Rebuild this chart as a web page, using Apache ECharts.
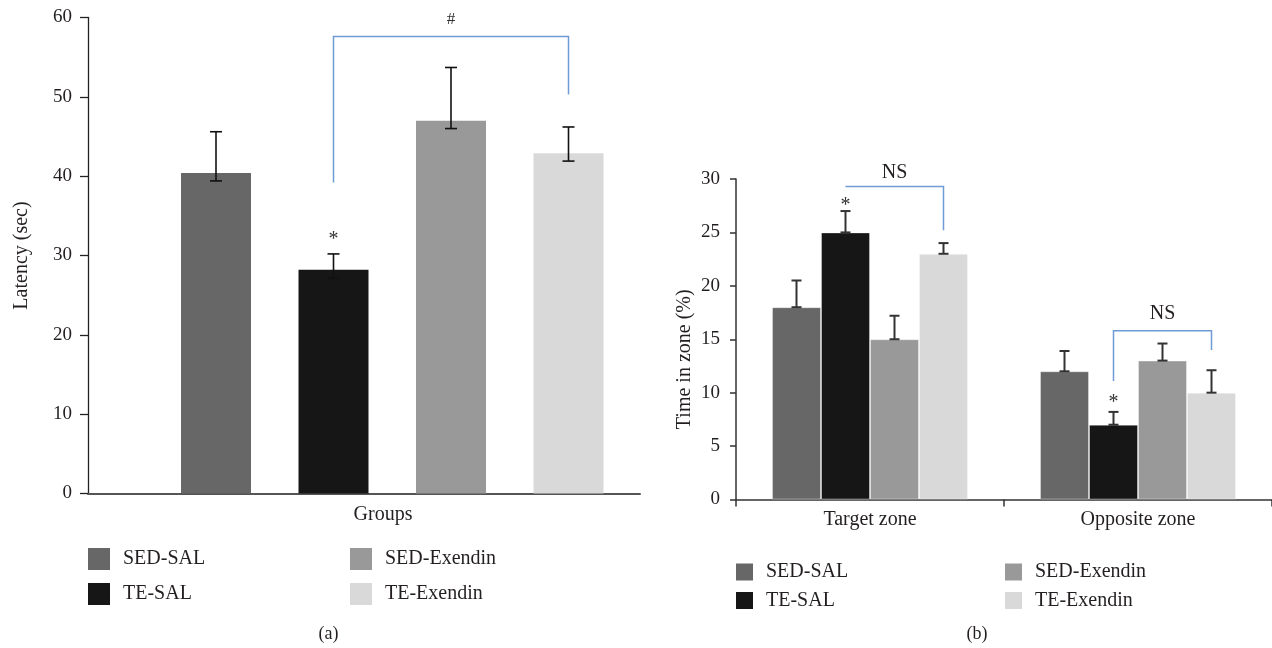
<!DOCTYPE html>
<html><head><meta charset="utf-8">
<script src="https://cdn.jsdelivr.net/npm/echarts@6.0.0/dist/echarts.min.js"></script>
<style>html,body{margin:0;padding:0;background:#fff}#c{width:1272px;height:648px}</style>
</head><body><div id="c"></div>
<script>
// ---------- shared ----------
const groups = ['SED-SAL', 'TE-SAL', 'SED-Exendin', 'TE-Exendin'];
const groupColors = ['#676767', '#161616', '#999999', '#d9d9d9'];

// ---------- panel (a): latency ----------
const latency        = [40.4, 28.2, 47.0, 42.9];
const latencyErrHigh = [45.6, 30.2, 53.7, 46.2];
const latencyErrLow  = [39.4, 27.1, 46.0, 41.9];
const latencyAxis    = { min: 0, max: 60, interval: 10 };
const starsA   = [{ group: 1, value: 32.5, text: '*' }];
const bracketA = [{ from: 1, to: 3, top: 57.6, leftEnd: 39.2, rightEnd: 50.3, label: '#', labelAt: 59.8 }];

// ---------- panel (b): time in zone ----------
const zones = ['Target zone', 'Opposite zone'];
const zoneSedSal    = [18, 12];
const zoneTeSal     = [25, 7];
const zoneSedExen   = [15, 13];
const zoneTeExen    = [23, 10];
const zoneErrHigh   = [[20.5, 13.9], [27.0, 8.2], [17.2, 14.6], [24.0, 12.1]];
const zoneAxis      = { min: 0, max: 30, interval: 5 };
const starsB   = [{ zone: 0, series: 1, value: 27.9, text: '*' }, { zone: 1, series: 1, value: 9.4, text: '*' }];
const bracketB = [
  { zone: 0, from: 1, to: 3, top: 29.3, leftEnd: 29.3, rightEnd: 25.2, label: 'NS', labelAt: 30.6 },
  { zone: 1, from: 1, to: 3, top: 15.8, leftEnd: 11.1, rightEnd: 14.0, label: 'NS', labelAt: 17.4 }
];
const zoneValues = [zoneSedSal, zoneTeSal, zoneSedExen, zoneTeExen];

// ---------- styles ----------
const FONT = '"Liberation Serif", "Times New Roman", serif';
const TXT = '#231f20';
const BLUE = '#6f9bd6';
const BAR_B = 49;

const chart = echarts.init(document.getElementById('c'), null, { renderer: 'canvas' });

const series = [];
// panel a bars
groups.forEach((g, i) => {
  series.push({
    name: g, type: 'bar', xAxisIndex: 1, yAxisIndex: 1, stack: 'a', barWidth: 70,
    itemStyle: { color: groupColors[i] }, silent: true,
    data: groups.map((_, j) => (j === i ? latency[i] : '-'))
  });
});
// panel a error bars
series.push({
  type: 'custom', xAxisIndex: 1, yAxisIndex: 1, silent: true, z: 5,
  data: latency.map((v, i) => [i, latencyErrLow[i], latencyErrHigh[i]]),
  renderItem(params, api) {
    const x = api.coord([api.value(0), 0])[0];
    const yh = api.coord([api.value(0), api.value(2)])[1];
    const yl = api.coord([api.value(0), api.value(1)])[1];
    const w = 6, st = { stroke: '#111', lineWidth: 1.6 };
    return { type: 'group', children: [
      { type: 'line', shape: { x1: x, y1: yh, x2: x, y2: yl }, style: st },
      { type: 'line', shape: { x1: x - w, y1: yh, x2: x + w, y2: yh }, style: st },
      { type: 'line', shape: { x1: x - w, y1: yl, x2: x + w, y2: yl }, style: st }
    ] };
  }
});
// panel a annotations
series.push({
  type: 'custom', xAxisIndex: 1, yAxisIndex: 1, silent: true, z: 6,
  data: bracketA.map(b => [b.from, b.to, b.top, b.leftEnd, b.rightEnd, b.labelAt]),
  renderItem(params, api) {
    const b = bracketA[params.dataIndex];
    const x1 = api.coord([api.value(0), 0])[0];
    const x2 = api.coord([api.value(1), 0])[0];
    const yt = api.coord([0, api.value(2)])[1];
    const yl = api.coord([0, api.value(3)])[1];
    const yr = api.coord([0, api.value(4)])[1];
    const ylab = api.coord([0, api.value(5)])[1];
    return { type: 'group', children: [
      { type: 'polyline', shape: { points: [[x1, yl], [x1, yt], [x2, yt], [x2, yr]] }, style: { stroke: BLUE, lineWidth: 1.5, fill: null } },
      { type: 'text', style: { text: b.label, x: (x1 + x2) / 2, y: ylab, align: 'center', verticalAlign: 'middle', fontSize: 17, fontFamily: FONT, fill: '#333' } }
    ] };
  }
});
series.push({
  type: 'custom', xAxisIndex: 1, yAxisIndex: 1, silent: true, z: 6,
  data: starsA.map(s => [s.group, s.value]),
  renderItem(params, api) {
    const p = api.coord([api.value(0), api.value(1)]);
    return { type: 'text', style: { text: starsA[params.dataIndex].text, x: p[0], y: p[1] + 4, align: 'center', verticalAlign: 'middle', fontSize: 20, fontFamily: FONT, fill: '#333' } };
  }
});

// panel b bars
groups.forEach((g, i) => {
  series.push({
    name: g, type: 'bar', xAxisIndex: 2, yAxisIndex: 2, barWidth: BAR_B, barGap: '0%',
    itemStyle: { color: groupColors[i], borderColor: 'rgba(255,255,255,0.35)', borderWidth: 1 }, silent: true,
    data: zoneValues[i]
  });
});
// panel b error bars
const errB = [];
zoneValues.forEach((vals, s) => vals.forEach((v, z) => errB.push([z, v, zoneErrHigh[s][z], s])));
series.push({
  type: 'custom', xAxisIndex: 2, yAxisIndex: 2, silent: true, z: 5,
  data: errB,
  renderItem(params, api) {
    const x = api.coord([api.value(0), 0])[0] + (api.value(3) - 1.5) * BAR_B;
    const yh = api.coord([api.value(0), api.value(2)])[1];
    const yl = api.coord([api.value(0), api.value(1)])[1];
    const w = 5, st = { stroke: '#333', lineWidth: 2 };
    return { type: 'group', children: [
      { type: 'line', shape: { x1: x, y1: yh, x2: x, y2: yl }, style: st },
      { type: 'line', shape: { x1: x - w, y1: yh, x2: x + w, y2: yh }, style: st },
      { type: 'line', shape: { x1: x - w, y1: yl, x2: x + w, y2: yl }, style: st }
    ] };
  }
});
series.push({
  type: 'custom', xAxisIndex: 2, yAxisIndex: 2, silent: true, z: 6,
  data: bracketB.map(b => [b.zone, b.from, b.to, b.top, b.leftEnd, b.rightEnd, b.labelAt]),
  renderItem(params, api) {
    const b = bracketB[params.dataIndex];
    const cx = api.coord([api.value(0), 0])[0];
    const x1 = cx + (api.value(1) - 1.5) * BAR_B;
    const x2 = cx + (api.value(2) - 1.5) * BAR_B;
    const yt = api.coord([0, api.value(3)])[1];
    const yl = api.coord([0, api.value(4)])[1];
    const yr = api.coord([0, api.value(5)])[1];
    const ylab = api.coord([0, api.value(6)])[1];
    return { type: 'group', children: [
      { type: 'polyline', shape: { points: [[x1, yl], [x1, yt], [x2, yt], [x2, yr]] }, style: { stroke: BLUE, lineWidth: 1.5, fill: null } },
      { type: 'text', style: { text: b.label, x: (x1 + x2) / 2, y: ylab, align: 'center', verticalAlign: 'middle', fontSize: 20, fontFamily: FONT, fill: TXT } }
    ] };
  }
});
series.push({
  type: 'custom', xAxisIndex: 2, yAxisIndex: 2, silent: true, z: 6,
  data: starsB.map(s => [s.zone, s.value, s.series]),
  renderItem(params, api) {
    const p = api.coord([api.value(0), api.value(1)]);
    const x = p[0] + (api.value(2) - 1.5) * BAR_B;
    return { type: 'text', style: { text: starsB[params.dataIndex].text, x: x, y: p[1] + 4, align: 'center', verticalAlign: 'middle', fontSize: 20, fontFamily: FONT, fill: '#333' } };
  }
});

const legendBase = (left, top, names, size, gap) => ({
  left: left, top: top, orient: 'vertical', padding: 0, icon: 'rect',
  itemWidth: size, itemHeight: size, itemGap: gap, selectedMode: false,
  data: names,
  textStyle: { fontSize: 20, fontFamily: FONT, color: TXT, padding: [0, 0, 0, 8] }
});

const axisText = { fontSize: 19, fontFamily: FONT, color: TXT };
const nameText = { fontSize: 20, fontFamily: FONT, color: TXT };

chart.setOption({
  animation: false,
  backgroundColor: '#fff',
  grid: [
    { left: 88, top: 17.5, width: 552, height: 476 },
    { left: 157.25, top: 17.5, width: 470, height: 476 },
    { left: 736, top: 179, width: 538, height: 320.5 }
  ],
  xAxis: [
    { gridIndex: 0, type: 'category', data: ['Groups'],
      axisLine: { lineStyle: { color: '#555', width: 2 } }, axisTick: { show: false }, axisLabel: { show: false },
      name: 'Groups', nameLocation: 'middle', nameGap: 11,
      nameTextStyle: Object.assign({}, nameText, { padding: [0, 0, 0, 38] }) },
    { gridIndex: 1, type: 'category', data: groups, show: false },
    { gridIndex: 2, type: 'category', data: zones,
      axisLine: { lineStyle: { color: '#333', width: 1.5 } },
      axisTick: { show: true, length: 7, lineStyle: { color: '#333', width: 1.5 } },
      axisLabel: Object.assign({ margin: 10 }, nameText) }
  ],
  yAxis: [
    { gridIndex: 0, type: 'value', min: latencyAxis.min, max: latencyAxis.max, interval: latencyAxis.interval,
      axisLine: { show: true, lineStyle: { color: '#222', width: 1.3 } },
      axisTick: { show: true, length: 8, lineStyle: { color: '#222', width: 1.3 } },
      axisLabel: Object.assign({ margin: 16 }, axisText), splitLine: { show: false },
      name: 'Latency (sec)', nameLocation: 'middle', nameGap: 56, nameTextStyle: nameText },
    { gridIndex: 1, type: 'value', min: latencyAxis.min, max: latencyAxis.max, show: false, splitLine: { show: false } },
    { gridIndex: 2, type: 'value', min: zoneAxis.min, max: zoneAxis.max, interval: zoneAxis.interval,
      axisLine: { show: true, lineStyle: { color: '#333', width: 1.5 } },
      axisTick: { show: true, length: 6, lineStyle: { color: '#333', width: 1.5 } },
      axisLabel: Object.assign({ margin: 16 }, axisText), splitLine: { show: false },
      name: 'Time in zone (%)', nameLocation: 'middle', nameGap: 41,
      nameTextStyle: Object.assign({}, nameText, { padding: [0, 40, 0, 0] }) }
  ],
  legend: [
    legendBase(88, 548, ['SED-SAL', 'TE-SAL'], 22, 13),
    legendBase(350, 548, ['SED-Exendin', 'TE-Exendin'], 22, 13),
    legendBase(736, 562, ['SED-SAL', 'TE-SAL'], 17, 8.5),
    legendBase(1005, 562, ['SED-Exendin', 'TE-Exendin'], 17, 8.5)
  ],
  graphic: [
    { type: 'text', x: 328.5, y: 634, style: { text: '(a)', align: 'center', verticalAlign: 'middle', fontSize: 18, fontFamily: FONT, fill: TXT } },
    { type: 'text', x: 977, y: 634, style: { text: '(b)', align: 'center', verticalAlign: 'middle', fontSize: 18, fontFamily: FONT, fill: TXT } }
  ],
  series: series
});
</script>
</body></html>
